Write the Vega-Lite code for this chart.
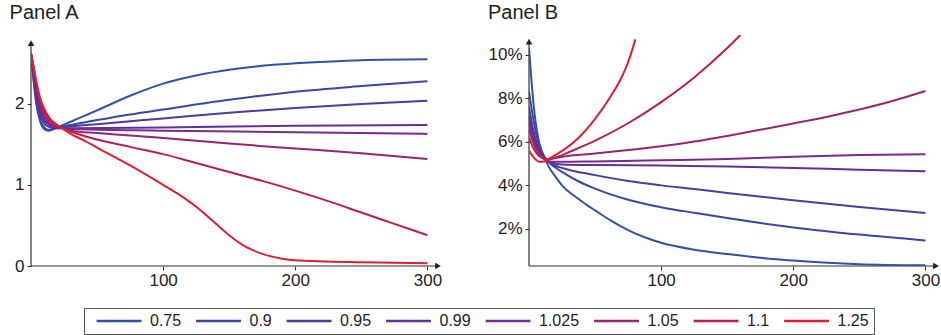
{
  "$schema": "https://vega.github.io/schema/vega-lite/v6.json",
  "padding": {"left": 9, "top": 3, "right": 0, "bottom": 0},
  "background": "white",
  "config": {
    "view": {"stroke": null},
    "font": "Liberation Sans",
    "axis": {"grid": false, "title": null, "domain": false, "tickColor": "#333", "tickSize": 4, "labelFontSize": 17, "labelColor": "#222", "labelFlush": false, "labelOverlap": false},
    "title": {"anchor": "start", "fontSize": 20, "fontWeight": "normal", "color": "#222", "offset": 12}
  },
  "datasets": {
    "A": [
      {"s":"0.75","x":0,"y":2.62},{"s":"0.75","x":2,"y":2.28},{"s":"0.75","x":4,"y":2.0},{"s":"0.75","x":7,"y":1.78},{"s":"0.75","x":10,"y":1.69},{"s":"0.75","x":13,"y":1.67},{"s":"0.75","x":16,"y":1.68},{"s":"0.75","x":20,"y":1.71},{"s":"0.75","x":30,"y":1.78},{"s":"0.75","x":40,"y":1.85},{"s":"0.75","x":50,"y":1.92},{"s":"0.75","x":75,"y":2.1},{"s":"0.75","x":100,"y":2.25},{"s":"0.75","x":125,"y":2.35},{"s":"0.75","x":150,"y":2.42},{"s":"0.75","x":175,"y":2.47},{"s":"0.75","x":200,"y":2.5},{"s":"0.75","x":250,"y":2.54},{"s":"0.75","x":300,"y":2.55},
      {"s":"0.9","x":0,"y":2.62},{"s":"0.9","x":2,"y":2.3},{"s":"0.9","x":4,"y":2.03},{"s":"0.9","x":7,"y":1.8},{"s":"0.9","x":10,"y":1.71},{"s":"0.9","x":13,"y":1.68},{"s":"0.9","x":16,"y":1.69},{"s":"0.9","x":20,"y":1.71},{"s":"0.9","x":30,"y":1.74},{"s":"0.9","x":50,"y":1.8},{"s":"0.9","x":75,"y":1.87},{"s":"0.9","x":100,"y":1.93},{"s":"0.9","x":150,"y":2.05},{"s":"0.9","x":200,"y":2.15},{"s":"0.9","x":250,"y":2.22},{"s":"0.9","x":300,"y":2.28},
      {"s":"0.95","x":0,"y":2.62},{"s":"0.95","x":2,"y":2.34},{"s":"0.95","x":4,"y":2.08},{"s":"0.95","x":7,"y":1.86},{"s":"0.95","x":10,"y":1.76},{"s":"0.95","x":13,"y":1.72},{"s":"0.95","x":16,"y":1.71},{"s":"0.95","x":20,"y":1.7},{"s":"0.95","x":30,"y":1.72},{"s":"0.95","x":50,"y":1.75},{"s":"0.95","x":100,"y":1.82},{"s":"0.95","x":150,"y":1.89},{"s":"0.95","x":200,"y":1.95},{"s":"0.95","x":250,"y":2.0},{"s":"0.95","x":300,"y":2.04},
      {"s":"0.99","x":0,"y":2.62},{"s":"0.99","x":2,"y":2.37},{"s":"0.99","x":4,"y":2.12},{"s":"0.99","x":7,"y":1.91},{"s":"0.99","x":10,"y":1.8},{"s":"0.99","x":13,"y":1.75},{"s":"0.99","x":16,"y":1.72},{"s":"0.99","x":20,"y":1.7},{"s":"0.99","x":30,"y":1.7},{"s":"0.99","x":100,"y":1.71},{"s":"0.99","x":200,"y":1.73},{"s":"0.99","x":300,"y":1.74},
      {"s":"1.025","x":0,"y":2.62},{"s":"1.025","x":2,"y":2.4},{"s":"1.025","x":4,"y":2.16},{"s":"1.025","x":7,"y":1.95},{"s":"1.025","x":10,"y":1.83},{"s":"1.025","x":13,"y":1.77},{"s":"1.025","x":16,"y":1.73},{"s":"1.025","x":20,"y":1.71},{"s":"1.025","x":30,"y":1.69},{"s":"1.025","x":100,"y":1.67},{"s":"1.025","x":200,"y":1.65},{"s":"1.025","x":300,"y":1.63},
      {"s":"1.05","x":0,"y":2.62},{"s":"1.05","x":2,"y":2.42},{"s":"1.05","x":4,"y":2.2},{"s":"1.05","x":7,"y":1.99},{"s":"1.05","x":10,"y":1.87},{"s":"1.05","x":13,"y":1.8},{"s":"1.05","x":16,"y":1.75},{"s":"1.05","x":20,"y":1.72},{"s":"1.05","x":30,"y":1.67},{"s":"1.05","x":50,"y":1.64},{"s":"1.05","x":100,"y":1.58},{"s":"1.05","x":150,"y":1.51},{"s":"1.05","x":200,"y":1.45},{"s":"1.05","x":250,"y":1.39},{"s":"1.05","x":300,"y":1.32},
      {"s":"1.1","x":0,"y":2.62},{"s":"1.1","x":2,"y":2.44},{"s":"1.1","x":4,"y":2.24},{"s":"1.1","x":7,"y":2.03},{"s":"1.1","x":10,"y":1.91},{"s":"1.1","x":13,"y":1.83},{"s":"1.1","x":16,"y":1.77},{"s":"1.1","x":20,"y":1.73},{"s":"1.1","x":30,"y":1.66},{"s":"1.1","x":50,"y":1.56},{"s":"1.1","x":75,"y":1.47},{"s":"1.1","x":100,"y":1.38},{"s":"1.1","x":125,"y":1.27},{"s":"1.1","x":150,"y":1.16},{"s":"1.1","x":175,"y":1.05},{"s":"1.1","x":200,"y":0.93},{"s":"1.1","x":225,"y":0.8},{"s":"1.1","x":250,"y":0.66},{"s":"1.1","x":275,"y":0.52},{"s":"1.1","x":300,"y":0.38},
      {"s":"1.25","x":0,"y":2.62},{"s":"1.25","x":2,"y":2.46},{"s":"1.25","x":4,"y":2.28},{"s":"1.25","x":7,"y":2.07},{"s":"1.25","x":10,"y":1.94},{"s":"1.25","x":13,"y":1.85},{"s":"1.25","x":16,"y":1.79},{"s":"1.25","x":20,"y":1.74},{"s":"1.25","x":30,"y":1.63},{"s":"1.25","x":40,"y":1.55},{"s":"1.25","x":50,"y":1.46},{"s":"1.25","x":75,"y":1.24},{"s":"1.25","x":100,"y":1.0},{"s":"1.25","x":115,"y":0.85},{"s":"1.25","x":125,"y":0.73},{"s":"1.25","x":140,"y":0.52},{"s":"1.25","x":150,"y":0.38},{"s":"1.25","x":160,"y":0.26},{"s":"1.25","x":175,"y":0.15},{"s":"1.25","x":190,"y":0.09},{"s":"1.25","x":200,"y":0.07},{"s":"1.25","x":250,"y":0.045},{"s":"1.25","x":300,"y":0.035}
    ],
    "B": [
      {"s":"0.75","x":0,"y":10.3},{"s":"0.75","x":2,"y":8.7},{"s":"0.75","x":4,"y":7.4},{"s":"0.75","x":6,"y":6.5},{"s":"0.75","x":8,"y":5.9},{"s":"0.75","x":10,"y":5.5},{"s":"0.75","x":13,"y":5.1},{"s":"0.75","x":15,"y":4.85},{"s":"0.75","x":20,"y":4.4},{"s":"0.75","x":25,"y":4.0},{"s":"0.75","x":37,"y":3.4},{"s":"0.75","x":45,"y":3.05},{"s":"0.75","x":50,"y":2.85},{"s":"0.75","x":62,"y":2.38},{"s":"0.75","x":75,"y":1.95},{"s":"0.75","x":87,"y":1.63},{"s":"0.75","x":100,"y":1.37},{"s":"0.75","x":125,"y":1.05},{"s":"0.75","x":150,"y":0.85},{"s":"0.75","x":175,"y":0.68},{"s":"0.75","x":200,"y":0.55},{"s":"0.75","x":250,"y":0.38},{"s":"0.75","x":300,"y":0.33},
      {"s":"0.9","x":0,"y":8.3},{"s":"0.9","x":2,"y":7.5},{"s":"0.9","x":4,"y":6.8},{"s":"0.9","x":6,"y":6.2},{"s":"0.9","x":8,"y":5.8},{"s":"0.9","x":10,"y":5.5},{"s":"0.9","x":13,"y":5.2},{"s":"0.9","x":16,"y":5.0},{"s":"0.9","x":20,"y":4.82},{"s":"0.9","x":25,"y":4.62},{"s":"0.9","x":37,"y":4.2},{"s":"0.9","x":50,"y":3.85},{"s":"0.9","x":75,"y":3.34},{"s":"0.9","x":100,"y":3.0},{"s":"0.9","x":125,"y":2.74},{"s":"0.9","x":150,"y":2.5},{"s":"0.9","x":200,"y":2.07},{"s":"0.9","x":250,"y":1.74},{"s":"0.9","x":300,"y":1.47},
      {"s":"0.95","x":0,"y":7.6},{"s":"0.95","x":3,"y":6.6},{"s":"0.95","x":6,"y":5.9},{"s":"0.95","x":10,"y":5.4},{"s":"0.95","x":13,"y":5.2},{"s":"0.95","x":16,"y":5.05},{"s":"0.95","x":20,"y":4.9},{"s":"0.95","x":25,"y":4.8},{"s":"0.95","x":50,"y":4.47},{"s":"0.95","x":75,"y":4.2},{"s":"0.95","x":100,"y":4.0},{"s":"0.95","x":125,"y":3.83},{"s":"0.95","x":150,"y":3.65},{"s":"0.95","x":200,"y":3.32},{"s":"0.95","x":250,"y":3.01},{"s":"0.95","x":300,"y":2.73},
      {"s":"0.99","x":0,"y":7.2},{"s":"0.99","x":3,"y":6.4},{"s":"0.99","x":6,"y":5.8},{"s":"0.99","x":10,"y":5.35},{"s":"0.99","x":13,"y":5.15},{"s":"0.99","x":16,"y":5.05},{"s":"0.99","x":20,"y":5.0},{"s":"0.99","x":25,"y":4.96},{"s":"0.99","x":50,"y":4.93},{"s":"0.99","x":100,"y":4.91},{"s":"0.99","x":150,"y":4.87},{"s":"0.99","x":200,"y":4.8},{"s":"0.99","x":250,"y":4.72},{"s":"0.99","x":300,"y":4.65},
      {"s":"1.025","x":0,"y":6.9},{"s":"1.025","x":3,"y":6.2},{"s":"1.025","x":6,"y":5.7},{"s":"1.025","x":10,"y":5.3},{"s":"1.025","x":13,"y":5.15},{"s":"1.025","x":16,"y":5.1},{"s":"1.025","x":20,"y":5.08},{"s":"1.025","x":25,"y":5.08},{"s":"1.025","x":50,"y":5.1},{"s":"1.025","x":100,"y":5.15},{"s":"1.025","x":150,"y":5.21},{"s":"1.025","x":200,"y":5.31},{"s":"1.025","x":250,"y":5.39},{"s":"1.025","x":300,"y":5.43},
      {"s":"1.05","x":0,"y":6.6},{"s":"1.05","x":3,"y":6.0},{"s":"1.05","x":6,"y":5.6},{"s":"1.05","x":10,"y":5.3},{"s":"1.05","x":13,"y":5.2},{"s":"1.05","x":16,"y":5.2},{"s":"1.05","x":20,"y":5.25},{"s":"1.05","x":25,"y":5.31},{"s":"1.05","x":50,"y":5.46},{"s":"1.05","x":75,"y":5.62},{"s":"1.05","x":100,"y":5.79},{"s":"1.05","x":125,"y":6.01},{"s":"1.05","x":150,"y":6.27},{"s":"1.05","x":175,"y":6.55},{"s":"1.05","x":200,"y":6.84},{"s":"1.05","x":225,"y":7.14},{"s":"1.05","x":250,"y":7.48},{"s":"1.05","x":275,"y":7.87},{"s":"1.05","x":300,"y":8.33},
      {"s":"1.1","x":0,"y":6.2},{"s":"1.1","x":3,"y":5.75},{"s":"1.1","x":6,"y":5.45},{"s":"1.1","x":10,"y":5.25},{"s":"1.1","x":13,"y":5.2},{"s":"1.1","x":16,"y":5.22},{"s":"1.1","x":20,"y":5.28},{"s":"1.1","x":25,"y":5.39},{"s":"1.1","x":30,"y":5.52},{"s":"1.1","x":50,"y":6.05},{"s":"1.1","x":75,"y":6.85},{"s":"1.1","x":100,"y":7.82},{"s":"1.1","x":125,"y":8.95},{"s":"1.1","x":150,"y":10.3},{"s":"1.1","x":160,"y":10.9},
      {"s":"1.25","x":0,"y":5.6},{"s":"1.25","x":4,"y":5.25},{"s":"1.25","x":8,"y":5.08},{"s":"1.25","x":12,"y":5.1},{"s":"1.25","x":16,"y":5.25},{"s":"1.25","x":20,"y":5.4},{"s":"1.25","x":25,"y":5.58},{"s":"1.25","x":37,"y":6.15},{"s":"1.25","x":50,"y":7.05},{"s":"1.25","x":62,"y":8.1},{"s":"1.25","x":70,"y":8.95},{"s":"1.25","x":75,"y":9.65},{"s":"1.25","x":80.5,"y":10.7}
    ]
  },
  "hconcat": [
    {
      "title": {"text": "Panel A", "dx": -5},
      "width": 407,
      "height": 231,
      "layer": [
        {
          "data": {"values": [{}]},
          "mark": {"type": "rule", "color": "#333", "strokeWidth": 1.2},
          "encoding": {"x": {"datum": 0}, "y": {"datum": 0}, "y2": {"datum": 2.75}}
        },
        {
          "data": {"values": [{}]},
          "mark": {"type": "rule", "color": "#333", "strokeWidth": 1.2},
          "encoding": {"y": {"datum": 0}, "x": {"datum": 0}, "x2": {"datum": 308}}
        },
        {
          "data": {"name": "A"},
          "mark": {"type": "line", "strokeWidth": 2, "interpolate": "monotone", "clip": true},
          "encoding": {
            "x": {"field": "x", "type": "quantitative", "scale": {"domain": [0, 308], "nice": false, "zero": false}, "axis": {"values": [100, 200, 300], "labelPadding": 2}},
            "y": {"field": "y", "type": "quantitative", "scale": {"domain": [0, 2.85], "nice": false}, "axis": {"values": [0, 1, 2], "format": "d", "labelPadding": 3}},
            "color": {
              "field": "s", "type": "nominal",
              "scale": {"domain": ["0.75","0.9","0.95","0.99","1.025","1.05","1.1","1.25"], "range": ["#3450a6","#3a46a4","#4a3b9f","#62309a","#7a2a8e","#98256f","#bb1f4c","#dc1f30"]},
              "legend": {"title": null, "orient": "none", "legendX": 53, "legendY": 273, "direction": "horizontal", "columns": 8, "symbolType": "M-0.76,0H1", "symbolSize": 2601, "symbolStrokeWidth": 2.5, "clipHeight": 16, "labelFontSize": 16, "labelColor": "#222", "labelOffset": 7, "columnPadding": 6.5, "padding": 5, "strokeColor": "#555"}
            }
          }
        },
        {
          "data": {"values": [{}]},
          "mark": {"type": "point", "shape": "triangle-up", "filled": true, "color": "#222", "opacity": 1, "size": 45},
          "encoding": {"x": {"datum": 0}, "y": {"datum": 2.75}}
        },
        {
          "data": {"values": [{}]},
          "mark": {"type": "point", "shape": "triangle-right", "filled": true, "color": "#222", "opacity": 1, "size": 45},
          "encoding": {"x": {"datum": 308}, "y": {"datum": 0}}
        }
      ]
    },
    {
      "title": {"text": "Panel B"},
      "width": 407,
      "height": 231,
      "layer": [
        {
          "data": {"values": [{}]},
          "mark": {"type": "rule", "color": "#333", "strokeWidth": 1.2},
          "encoding": {"x": {"datum": 0}, "y": {"datum": 0.3}, "y2": {"datum": 10.6}}
        },
        {
          "data": {"values": [{}]},
          "mark": {"type": "rule", "color": "#333", "strokeWidth": 1.2},
          "encoding": {"y": {"datum": 0.3}, "x": {"datum": 0}, "x2": {"datum": 308}}
        },
        {
          "data": {"name": "B"},
          "mark": {"type": "line", "strokeWidth": 2, "interpolate": "monotone", "clip": true},
          "encoding": {
            "x": {"field": "x", "type": "quantitative", "scale": {"domain": [0, 308], "nice": false, "zero": false}, "axis": {"values": [100, 200, 300], "labelPadding": 2}},
            "y": {"field": "y", "type": "quantitative", "scale": {"domain": [0.3, 10.9], "nice": false, "zero": false}, "axis": {"values": [2, 4, 6, 8, 10], "labelExpr": "datum.value + '%'", "labelPadding": 3}},
            "color": {"field": "s", "type": "nominal"}
          }
        },
        {
          "data": {"values": [{}]},
          "mark": {"type": "point", "shape": "triangle-up", "filled": true, "color": "#222", "opacity": 1, "size": 45},
          "encoding": {"x": {"datum": 0}, "y": {"datum": 10.6}}
        },
        {
          "data": {"values": [{}]},
          "mark": {"type": "point", "shape": "triangle-right", "filled": true, "color": "#222", "opacity": 1, "size": 45},
          "encoding": {"x": {"datum": 308}, "y": {"datum": 0.3}}
        }
      ]
    }
  ],
  "spacing": 45
}
